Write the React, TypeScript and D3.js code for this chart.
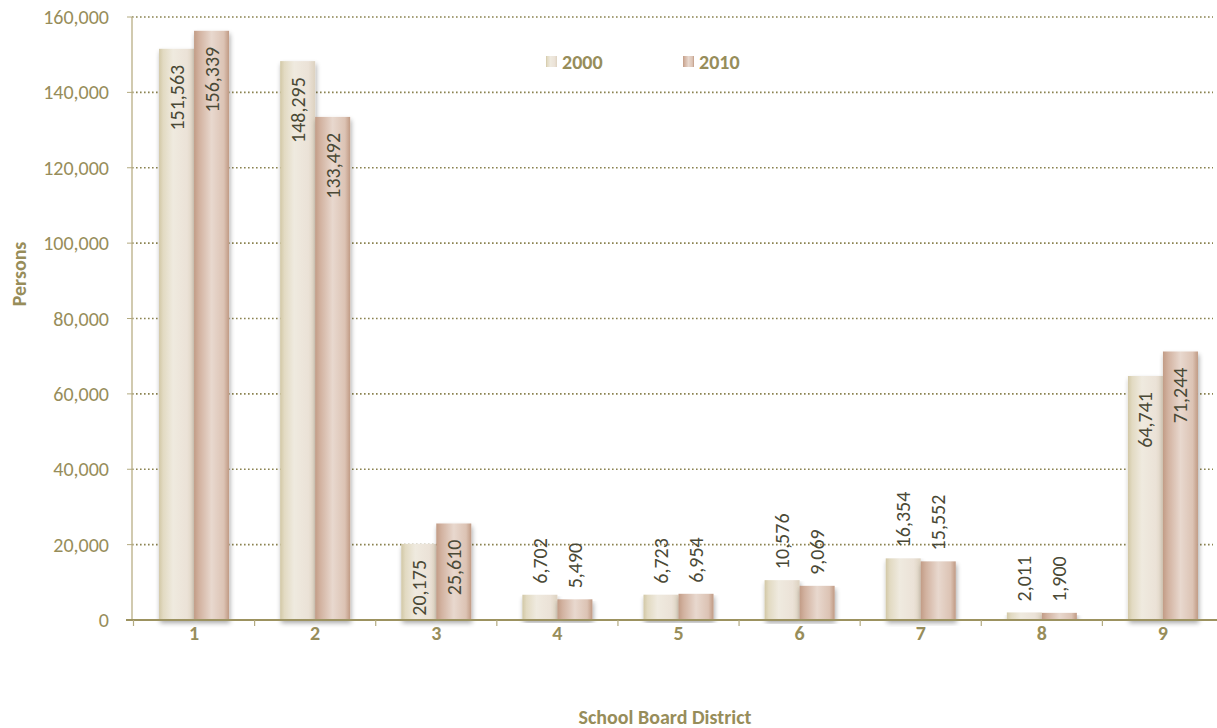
import React from "react";
import * as d3 from "d3";

const districts = ["1", "2", "3", "4", "5", "6", "7", "8", "9"];
const pop2000 = [151563, 148295, 20175, 6702, 6723, 10576, 16354, 2011, 64741];
const pop2010 = [156339, 133492, 25610, 5490, 6954, 9069, 15552, 1900, 71244];
const seriesNames = ["2000", "2010"];
const yTicks = [0, 20000, 40000, 60000, 80000, 100000, 120000, 140000, 160000];

const W = 1217;
const H = 728;
const left = 132;
const right = 1222;
const top = 17;
const bottom = 620;
const FONT = "Carlito, 'Open Sans', sans-serif";
const OLIVE = "#978d5a";
const LABEL = "#4a4936";

export default function App() {
  const x = d3.scaleBand<string>().domain(districts).range([left + 1.5, right + 1.5]).paddingInner(0).paddingOuter(0);
  const y = d3.scaleLinear().domain([0, 160000]).range([bottom, top]);
  const inner = d3.scaleBand<string>().domain(seriesNames).range([0, 70]);
  const fmt = d3.format(",");
  const series = [pop2000, pop2010];
  const offset = (x.bandwidth() - 70) / 2;

  return (
    <svg width={W} height={H} style={{ position: "absolute", left: 0, top: 0, background: "#fff" }}>
      <defs>
        <linearGradient id="g2000" x1="0" x2="1" y1="0" y2="0">
          <stop offset="0" stopColor="#d2c8a6" />
          <stop offset="0.12" stopColor="#e2dac2" />
          <stop offset="0.4" stopColor="#efeadf" />
          <stop offset="0.8" stopColor="#ebe2d7" />
          <stop offset="1" stopColor="#ddd2c0" />
        </linearGradient>
        <linearGradient id="g2010" x1="0" x2="1" y1="0" y2="0">
          <stop offset="0" stopColor="#c29c86" />
          <stop offset="0.15" stopColor="#d2b2a0" />
          <stop offset="0.5" stopColor="#e8d8ce" />
          <stop offset="0.85" stopColor="#dcc3b4" />
          <stop offset="1" stopColor="#c09a84" />
        </linearGradient>
        <filter id="shadow" x="-20%" y="-5%" width="140%" height="115%">
          <feGaussianBlur in="SourceAlpha" stdDeviation="2.5" />
          <feOffset dx="1" dy="3" result="b" />
          <feComponentTransfer>
            <feFuncA type="linear" slope="0.35" />
          </feComponentTransfer>
          <feMerge>
            <feMergeNode />
            <feMergeNode in="SourceGraphic" />
          </feMerge>
        </filter>
      </defs>

      {yTicks.filter((t) => t > 0).map((t) => (
        <line key={t} x1={left} x2={1213} y1={y(t)} y2={y(t)} stroke="#8a8250" strokeWidth={1.6} strokeDasharray="1.6 2.4" />
      ))}

      <line x1={left} x2={left} y1={top} y2={bottom} stroke="#c2b994" strokeWidth={1.5} />
      {yTicks.map((t) => (
        <g key={t}>
          <line x1={left - 5} x2={left} y1={y(t)} y2={y(t)} stroke="#b3aa80" strokeWidth={1} />
          <text x={left - 23} y={y(t)} textAnchor="end" dominantBaseline="central" fontFamily={FONT} fontSize={20} fill={OLIVE}>
            {fmt(t)}
          </text>
        </g>
      ))}

      {districts.map((d, i) => (
        <g key={d}>
          {series.map((vals, s) => {
            const bx = (x(d) as number) + offset + (inner(seriesNames[s]) as number);
            const by = y(vals[i]);
            return (
              <rect key={s} x={bx} y={by} width={inner.bandwidth()} height={bottom - by} fill={`url(#g${seriesNames[s]})`} filter="url(#shadow)" />
            );
          })}
        </g>
      ))}

      <line x1={left - 6} x2={W} y1={bottom} y2={bottom} stroke="#9c9260" strokeWidth={2.2} />
      {districts.map((d) => (
        <line key={d} x1={(x(d) as number)} x2={(x(d) as number)} y1={bottom} y2={bottom + 6} stroke="#b3aa80" strokeWidth={1.2} />
      ))}
      {districts.map((d) => (
        <text key={d} x={(x(d) as number) + x.bandwidth() / 2} y={633} textAnchor="middle" dominantBaseline="central" fontFamily={FONT} fontWeight="bold" fontSize={20} fill={OLIVE}>
          {d}
        </text>
      ))}

      {districts.map((d, i) => (
        <g key={d}>
          {series.map((vals, s) => {
            const cx = (x(d) as number) + offset + (inner(seriesNames[s]) as number) + inner.bandwidth() / 2;
            const by = y(vals[i]);
            const insideBar = bottom - by > 70;
            const ly = insideBar ? by + 16 : by - 11;
            return (
              <text
                key={s}
                transform={`translate(${cx},${ly}) rotate(-90)`}
                textAnchor={insideBar ? "end" : "start"}
                dominantBaseline="central"
                fontFamily={FONT}
                fontSize={20}
                fill={LABEL}
              >
                {fmt(vals[i])}
              </text>
            );
          })}
        </g>
      ))}

      {seriesNames.map((n, s) => (
        <g key={n} transform={`translate(${546 + s * 137},56)`}>
          <rect x={0} y={0} width={11} height={11} fill={`url(#g${n})`} />
          <text x={16} y={5.5} dominantBaseline="central" fontFamily={FONT} fontWeight="bold" fontSize={20} fill={OLIVE}>
            {n}
          </text>
        </g>
      ))}

      <text transform="translate(19,274) rotate(-90)" textAnchor="middle" dominantBaseline="central" fontFamily={FONT} fontWeight="bold" fontSize={20} fill={OLIVE}>
        Persons
      </text>
      <text x={665} y={717} textAnchor="middle" dominantBaseline="central" fontFamily={FONT} fontWeight="bold" fontSize={20} fill={OLIVE}>
        School Board District
      </text>
    </svg>
  );
}
